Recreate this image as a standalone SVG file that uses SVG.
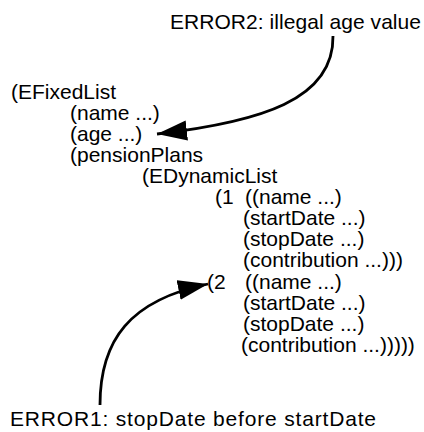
<svg xmlns="http://www.w3.org/2000/svg" width="424" height="432" viewBox="0 0 424 432">
  <style>
    text { font-family: "Liberation Sans", Arial, Helvetica, sans-serif; font-size: 21px; fill: #000; }
    .conn { fill: none; stroke: #000; stroke-width: 2.8; }
  </style>
  <defs>
    <marker id="head" markerUnits="userSpaceOnUse" markerWidth="32" markerHeight="22" refX="30" refY="10" orient="auto" viewBox="0 0 32 22">
      <path d="M0,0 L30,10 L0,20 z" fill="#000"/>
    </marker>
  </defs>
  <rect width="424" height="432" fill="#fff"/>
  <g id="error2"><text x="170" y="29" textLength="251">ERROR2: illegal age value</text></g>
  <g id="fixedlist">
    <text x="11" y="99">(EFixedList</text>
    <text x="70" y="120">(name ...)</text>
    <text x="70" y="141">(age ...)</text>
    <text x="70" y="162">(pensionPlans</text>
  </g>
  <g id="dynamiclist">
    <text x="142" y="183">(EDynamicList</text>
  </g>
  <g id="item1">
    <text x="215" y="204">(1</text>
    <text x="245" y="204">((name ...)</text>
    <text x="243" y="225">(startDate ...)</text>
    <text x="243" y="246">(stopDate ...)</text>
    <text x="243" y="267">(contribution ...)))</text>
  </g>
  <g id="item2">
    <text x="207" y="289">(2</text>
    <text x="245" y="289">((name ...)</text>
    <text x="243" y="310">(startDate ...)</text>
    <text x="243" y="331">(stopDate ...)</text>
    <text x="241" y="352">(contribution ...)))))</text>
  </g>
  <g id="error1"><text x="10" y="426" textLength="366">ERROR1: stopDate before startDate</text></g>
  <g id="connectors">
    <path class="conn" d="M333,36 C334,100 260,122 157,134" marker-end="url(#head)"/>
    <path class="conn" d="M100,405 C100,340 130,300 208,284" marker-end="url(#head)"/>
  </g>
</svg>
